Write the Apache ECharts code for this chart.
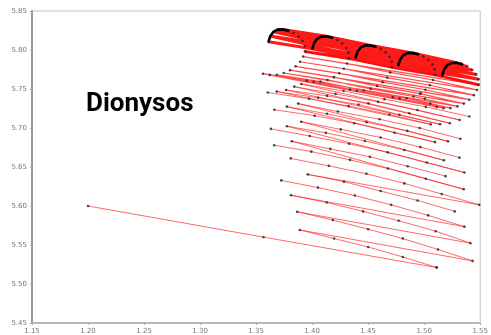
<!DOCTYPE html>
<html>
<head>
<meta charset="utf-8">
<script src="https://cdn.jsdelivr.net/npm/echarts@6/dist/echarts.min.js"></script>
<style>
  html, body { margin: 0; padding: 0; background: #fff; }
  #chart { width: 491px; height: 335px; }
</style>
</head>
<body>
<div id="chart"></div>
<script>
// Axis ranges and tick step
const xRange = [1.15, 1.55];
const yRange = [5.45, 5.85];
const tickStep = 0.05;

// Tube rings: first six points form the black cap arc, the rest run round the ring
const ring1 = [[1.3611,5.8106],[1.3627,5.8179],[1.3655,5.8233],[1.3693,5.8261],[1.3737,5.8264],[1.3787,5.8246],[1.3834,5.8217],[1.3878,5.8172],[1.3914,5.8115],[1.3934,5.8052],[1.3936,5.7982],[1.3920,5.7916],[1.3892,5.7849],[1.3852,5.7791],[1.3803,5.7741],[1.3746,5.7705],[1.3684,5.7683],[1.3622,5.7681],[1.3561,5.7696]];
const ring2 = [[1.4002,5.8017],[1.4018,5.8090],[1.4046,5.8144],[1.4084,5.8172],[1.4128,5.8175],[1.4178,5.8157],[1.4225,5.8128],[1.4269,5.8083],[1.4305,5.8026],[1.4325,5.7963],[1.4327,5.7893],[1.4311,5.7827],[1.4283,5.7760],[1.4243,5.7702],[1.4194,5.7652],[1.4137,5.7616],[1.4075,5.7594],[1.4013,5.7592],[1.3952,5.7607]];
const ring3 = [[1.4388,5.7903],[1.4404,5.7976],[1.4432,5.8030],[1.4470,5.8058],[1.4514,5.8061],[1.4564,5.8043],[1.4611,5.8014],[1.4655,5.7969],[1.4691,5.7912],[1.4711,5.7849],[1.4713,5.7779],[1.4697,5.7713],[1.4669,5.7646],[1.4629,5.7588],[1.4580,5.7538],[1.4523,5.7502],[1.4461,5.7480],[1.4399,5.7478],[1.4338,5.7493]];
const ring4 = [[1.4770,5.7805],[1.4786,5.7878],[1.4814,5.7932],[1.4852,5.7960],[1.4896,5.7963],[1.4946,5.7945],[1.4993,5.7916],[1.5037,5.7871],[1.5073,5.7814],[1.5093,5.7751],[1.5095,5.7681],[1.5079,5.7615],[1.5051,5.7548],[1.5011,5.7490],[1.4962,5.7440],[1.4905,5.7404],[1.4843,5.7382],[1.4781,5.7380],[1.4720,5.7395]];
const ring5 = [[1.5162,5.7678],[1.5178,5.7751],[1.5206,5.7805],[1.5244,5.7833],[1.5288,5.7836],[1.5338,5.7818],[1.5385,5.7789],[1.5429,5.7744],[1.5465,5.7687],[1.5485,5.7624],[1.5487,5.7554],[1.5471,5.7488],[1.5443,5.7421],[1.5403,5.7363],[1.5354,5.7313],[1.5297,5.7277],[1.5235,5.7255],[1.5173,5.7253],[1.5112,5.7268],[1.5054,5.7313],[1.5006,5.7376],[1.4970,5.7446]];

// Lattice levels below the tube: each level lists its copies, each copy its points
const levelA = [
  [[1.3604,5.7455],[1.3684,5.7468],[1.3767,5.7488],[1.3840,5.7531],[1.3904,5.7564]],
  [[1.3972,5.7376],[1.4054,5.7387],[1.4133,5.7412],[1.4209,5.7437],[1.4281,5.7475]],
  [[1.4326,5.7281],[1.4414,5.7300],[1.4502,5.7316],[1.4588,5.7335],[1.4646,5.7370]],
  [[1.4690,5.7173],[1.4779,5.7170],[1.4867,5.7189],[1.4941,5.7230],[1.5014,5.7271]],
  [[1.5059,5.7046],[1.5142,5.7048],[1.5229,5.7061],[1.5316,5.7103],[1.5403,5.7147]]
];
const levelB = [
  [[1.3663,5.7234],[1.3774,5.7274],[1.3875,5.7313]],
  [[1.4023,5.7158],[1.4133,5.7182],[1.4229,5.7211]],
  [[1.4376,5.7061],[1.4486,5.7075],[1.4602,5.7112]],
  [[1.4736,5.6940],[1.4849,5.6963],[1.4960,5.6999]],
  [[1.5096,5.6819],[1.5213,5.6829],[1.5323,5.6862]]
];
const levelC = [
  [[1.3632,5.6989],[1.3775,5.7023],[1.3902,5.7081]],
  [[1.3979,5.6897],[1.4123,5.6938],[1.4255,5.6982]],
  [[1.4330,5.6798],[1.4471,5.6833],[1.4611,5.6878]],
  [[1.4674,5.6688],[1.4823,5.6718],[1.4966,5.6756]],
  [[1.5023,5.6557],[1.5176,5.6586],[1.5315,5.6620]],
  [[1.5359,5.6430]]
];
const levelD = [
  [[1.3661,5.6779],[1.3818,5.6830]],
  [[1.3993,5.6697],[1.4162,5.6732]],
  [[1.4339,5.6591],[1.4515,5.6631]],
  [[1.4676,5.6481],[1.4853,5.6510]],
  [[1.5014,5.6350],[1.5191,5.6383]],
  [[1.5353,5.6214]]
];
const levelE = [
  [[1.3809,5.6610],[1.3961,5.6405]],
  [[1.4149,5.6515],[1.4284,5.6312]],
  [[1.4485,5.6413],[1.4611,5.6192]],
  [[1.4823,5.6290],[1.4941,5.6071]],
  [[1.5156,5.6154],[1.5273,5.5931]],
  [[1.5491,5.6015]]
];
const levelG = [
  [[1.3725,5.6328],[1.3811,5.6138],[1.3866,5.5926],[1.3890,5.5693]],
  [[1.4052,5.6236],[1.4131,5.6045],[1.4184,5.5820],[1.4196,5.5583]],
  [[1.4381,5.6134],[1.4455,5.5931],[1.4500,5.5702],[1.4500,5.5474]],
  [[1.4705,5.6015],[1.4773,5.5811],[1.4809,5.5583],[1.4809,5.5347]],
  [[1.5035,5.5880],[1.5103,5.5677],[1.5123,5.5443],[1.5112,5.5211]],
  [[1.5359,5.5735],[1.5412,5.5524],[1.5432,5.5296]]
];

// Opening segment from the initial state
const startPath = [[1.20,5.60],[1.3566,5.5601],[1.5112,5.5211]];

const rings = [ring1, ring2, ring3, ring4, ring5];
const levels = [levelA, levelB, levelC, levelD, levelE, levelG];
const CAP = 6;

// Sweep point index j through every copy left to right, then return to the
// first copy for index j + 1, giving one continuous path per group
function sweep(copies, from, to) {
  const path = [];
  for (let j = from; j <= to; j++) {
    copies.forEach(c => { if (c.length > j) path.push(c[j]); });
  }
  return path;
}

const tubeUpper = [{ coords: sweep(rings, 0, 10) }];
const tubeLower = [{ coords: sweep(rings, 10, ring1.length - 1) }];

const latticeLines = levels.map(level => {
  const n = Math.max(...level.map(c => c.length));
  return { coords: sweep(level, 0, n - 1) };
});
latticeLines.push({ coords: startPath });

const capLines = rings.map(r => ({ coords: r.slice(0, CAP) }));

const dots = [];
rings.forEach(r => r.slice(CAP - 1).forEach(p => dots.push(p)));
levels.forEach(level => level.forEach(c => c.forEach(p => dots.push(p))));
startPath.forEach(p => dots.push(p));

const chart = echarts.init(document.getElementById('chart'), null, { renderer: 'canvas' });

const labelStyle = {
  fontSize: 7,
  color: '#777',
  fontFamily: 'DejaVu Sans',
  formatter: v => v.toFixed(2)
};

chart.setOption({
  animation: false,
  backgroundColor: '#fff',
  grid: { left: 32, right: 6, top: 11, bottom: 9, show: true, borderColor: '#c4c4c4', borderWidth: 1 },
  xAxis: {
    type: 'value', min: xRange[0], max: xRange[1], interval: tickStep,
    axisLine: { show: true, lineStyle: { color: '#aaa', width: 1.5 } },
    axisTick: { show: true, length: 2, lineStyle: { color: '#aaa' } },
    splitLine: { show: false },
    axisLabel: Object.assign({ margin: 5 }, labelStyle)
  },
  yAxis: {
    type: 'value', min: yRange[0], max: yRange[1], interval: tickStep,
    axisLine: { show: true, lineStyle: { color: '#999', width: 2 } },
    axisTick: { show: true, length: 2, lineStyle: { color: '#aaa' } },
    splitLine: { show: false },
    axisLabel: Object.assign({ margin: 5 }, labelStyle)
  },
  graphic: [{
    type: 'text', x: 86, y: 104,
    style: { text: 'Dionysos', font: 'bold 26px Roboto', fill: '#000', align: 'left', verticalAlign: 'middle' }
  }],
  series: [
    {
      type: 'lines', coordinateSystem: 'cartesian2d', polyline: true, silent: true,
      lineStyle: { color: '#ff0000', width: 3, opacity: 0.9 },
      data: tubeUpper, z: 2
    },
    {
      type: 'lines', coordinateSystem: 'cartesian2d', polyline: true, silent: true,
      lineStyle: { color: '#ff0000', width: 1.2, opacity: 0.7 },
      data: tubeLower, z: 2
    },
    {
      type: 'lines', coordinateSystem: 'cartesian2d', polyline: true, silent: true,
      lineStyle: { color: '#ff2020', width: 0.9, opacity: 0.75 },
      data: latticeLines, z: 2
    },
    {
      type: 'scatter', symbol: 'circle', symbolSize: 2.6, silent: true,
      itemStyle: { color: '#222' },
      data: dots, z: 3
    },
    {
      type: 'lines', coordinateSystem: 'cartesian2d', polyline: true, silent: true,
      lineStyle: { color: '#000', width: 2.6, opacity: 1, cap: 'round' },
      data: capLines, z: 4
    }
  ]
});
</script>
</body>
</html>
